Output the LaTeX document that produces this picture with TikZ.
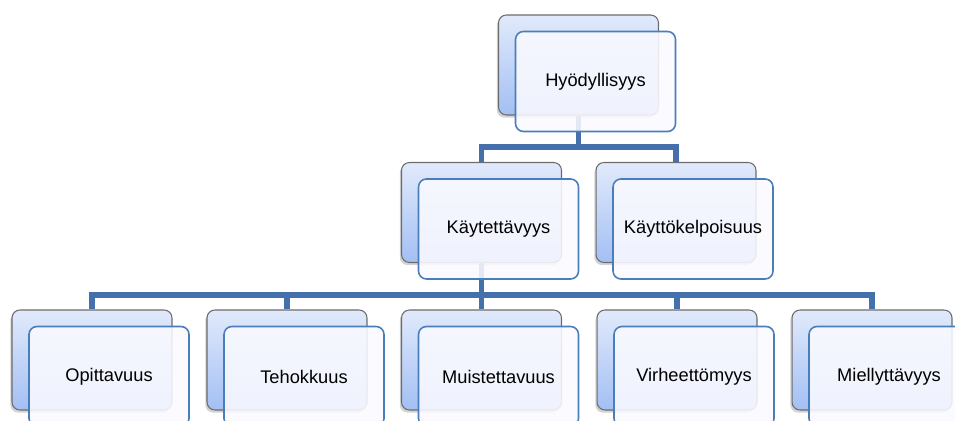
\documentclass[tikz,border=0pt]{standalone}
\usepackage{fontspec}
\setmainfont{Liberation Sans}
\usepackage{xcolor}
\usepackage{tikz}
\usetikzlibrary{shadows,backgrounds}

\definecolor{boxtop}{HTML}{E1EAFB}
\definecolor{boxbottom}{HTML}{A3BFF4}
\definecolor{frontline}{HTML}{4A7EBB}
\definecolor{busline}{HTML}{4470AC}

\begin{document}
\begin{tikzpicture}[x=0.02cm, y=-0.02cm,
    backbox/.style={rectangle, rounded corners=4.5pt, draw=gray!85!black, line width=0.6pt,
      top color=boxtop, bottom color=boxbottom, minimum width=3.2cm, minimum height=2cm,
      drop shadow={shadow xshift=-1pt, shadow yshift=-1.5pt, opacity=0.35}},
    frontbox/.style={rectangle, rounded corners=4.5pt, draw=frontline, line width=0.9pt,
      fill=blue!2!white, fill opacity=0.88, text opacity=1, draw opacity=1,
      minimum width=3.2cm, minimum height=2cm, font=\fontsize{10.4}{12}\selectfont},
    bus/.style={draw=busline, line width=3.2pt}]
          \useasboundingbox (0,0) rectangle (955,421);
          \clip (0,0) rectangle (955,421);

          \node[backbox] (hyoty-b) at (578.5,65) {};
          \node[frontbox] (hyoty) at (595.5,81.5) {Hyödyllisyys};

          \node[backbox] (kayt-b) at (481.5,212.5) {};
          \node[frontbox] (kayt) at (498.5,229) {Käytettävyys};
          \node[backbox] (kelp-b) at (676,212.5) {};
          \node[frontbox] (kelp) at (693,229) {Käyttökelpoisuus};

          \foreach \x/\name/\txt in {92/opit/Opittavuus, 287/teho/Tehokkuus, 481.5/muisti/Muistettavuus,
                                     677/virhe/Virheettömyys, 872/miel/Miellyttävyys}{%
            \node[backbox] (\name-b) at (\x,360) {};
            \node[frontbox] (\name) at (\x+17,376.5) {\txt};
          }

          \begin{scope}[on background layer]
            \coordinate (j1) at (578.5,147);
            \coordinate (j2) at (481.5,295);
            \draw[bus] (hyoty-b.south) -- (j1);
            \draw[bus] (kayt-b.north) |- (j1) -| (kelp-b.north);
            \draw[bus] (kayt-b.south) -- (j2);
            \draw[bus] (opit-b.north) |- (j2) -| (miel-b.north);
            \foreach \name in {teho,muisti,virhe}{
              \draw[bus] (\name-b.north) -- (\name-b.north |- j2);
            }
          \end{scope}
        \end{tikzpicture}
\end{document}
